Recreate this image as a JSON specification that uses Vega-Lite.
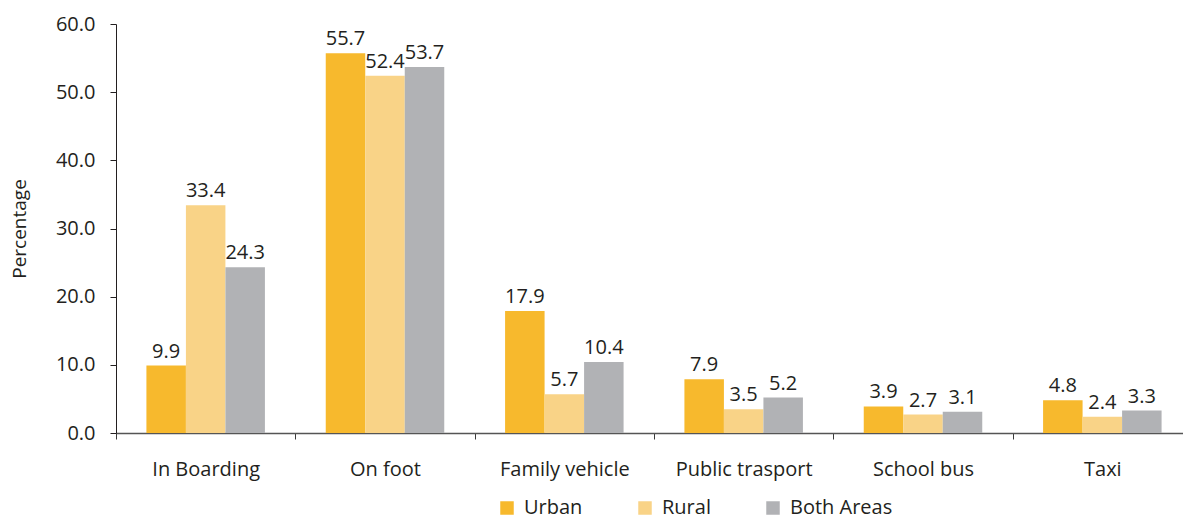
{
  "$schema": "https://vega.github.io/schema/vega-lite/v6.json",
  "autosize": {"type": "none"},
  "padding": {"left": 116, "top": 24, "right": 0, "bottom": 86},
  "width": 1067,
  "height": 409,
  "background": "white",
  "config": {
    "view": {"stroke": null},
    "font": "Open Sans",
    "text": {"font": "Open Sans"}
  },
  "data": {
    "values": [
      {"mode": "In Boarding", "area": "Urban", "value": 9.9},
      {"mode": "In Boarding", "area": "Rural", "value": 33.4},
      {"mode": "In Boarding", "area": "Both Areas", "value": 24.3},
      {"mode": "On foot", "area": "Urban", "value": 55.7},
      {"mode": "On foot", "area": "Rural", "value": 52.4},
      {"mode": "On foot", "area": "Both Areas", "value": 53.7},
      {"mode": "Family vehicle", "area": "Urban", "value": 17.9},
      {"mode": "Family vehicle", "area": "Rural", "value": 5.7},
      {"mode": "Family vehicle", "area": "Both Areas", "value": 10.4},
      {"mode": "Public trasport", "area": "Urban", "value": 7.9},
      {"mode": "Public trasport", "area": "Rural", "value": 3.5},
      {"mode": "Public trasport", "area": "Both Areas", "value": 5.2},
      {"mode": "School bus", "area": "Urban", "value": 3.9},
      {"mode": "School bus", "area": "Rural", "value": 2.7},
      {"mode": "School bus", "area": "Both Areas", "value": 3.1},
      {"mode": "Taxi", "area": "Urban", "value": 4.8},
      {"mode": "Taxi", "area": "Rural", "value": 2.4},
      {"mode": "Taxi", "area": "Both Areas", "value": 3.3}
    ]
  },
  "encoding": {
    "x": {
      "field": "mode",
      "type": "nominal",
      "sort": null,
      "scale": {"paddingInner": 0, "paddingOuter": 0, "range": [0, 1076]},
      "axis": {
        "title": null,
        "labelAngle": 0,
        "labelFont": "Open Sans",
        "labelFontSize": 20,
        "labelColor": "#231f20",
        "labelPadding": 20,
        "tickBand": "extent",
        "tickSize": 6,
        "tickColor": "#3a3a3a",
        "domainColor": "#555555",
        "domainWidth": 1.5,
        "labelLimit": 300
      }
    },
    "xOffset": {
      "field": "area",
      "type": "nominal",
      "sort": ["Urban", "Rural", "Both Areas"],
      "scale": {"paddingInner": 0, "paddingOuter": 0.77}
    },
    "y": {
      "field": "value",
      "type": "quantitative",
      "scale": {"domain": [0, 60], "nice": false},
      "axis": {
        "title": "Percentage",
        "titleFont": "Open Sans",
        "titleFontSize": 19,
        "titleFontWeight": "normal",
        "titleColor": "#231f20",
        "titlePadding": 26,
        "values": [0, 10, 20, 30, 40, 50, 60],
        "format": ".1f",
        "labelFont": "Open Sans",
        "labelFontSize": 20,
        "labelColor": "#231f20",
        "labelPadding": 15,
        "tickSize": 6,
        "tickColor": "#231f20",
        "domainColor": "#231f20",
        "grid": false
      }
    }
  },
  "layer": [
    {
      "mark": {"type": "bar"},
      "encoding": {
        "color": {
          "field": "area",
          "type": "nominal",
          "sort": ["Urban", "Rural", "Both Areas"],
          "scale": {
            "domain": ["Urban", "Rural", "Both Areas"],
            "range": ["#f7b92d", "#f9d387", "#b1b2b5"]
          },
          "legend": {
            "title": null,
            "orient": "none",
            "legendX": 381,
            "legendY": 474,
            "direction": "horizontal",
            "symbolType": "square",
            "symbolSize": 182,
            "symbolStrokeWidth": 0,
            "symbolOpacity": 1,
            "labelFont": "Open Sans",
            "labelFontSize": 20,
            "labelColor": "#231f20",
            "labelOffset": 7,
            "columnPadding": 52
          }
        }
      }
    },
    {
      "mark": {
        "type": "text",
        "baseline": "alphabetic",
        "dy": -8,
        "fontSize": 20,
        "font": "Open Sans",
        "color": "#231f20"
      },
      "encoding": {
        "text": {"field": "value", "type": "quantitative", "format": ".1f"}
      }
    }
  ]
}
